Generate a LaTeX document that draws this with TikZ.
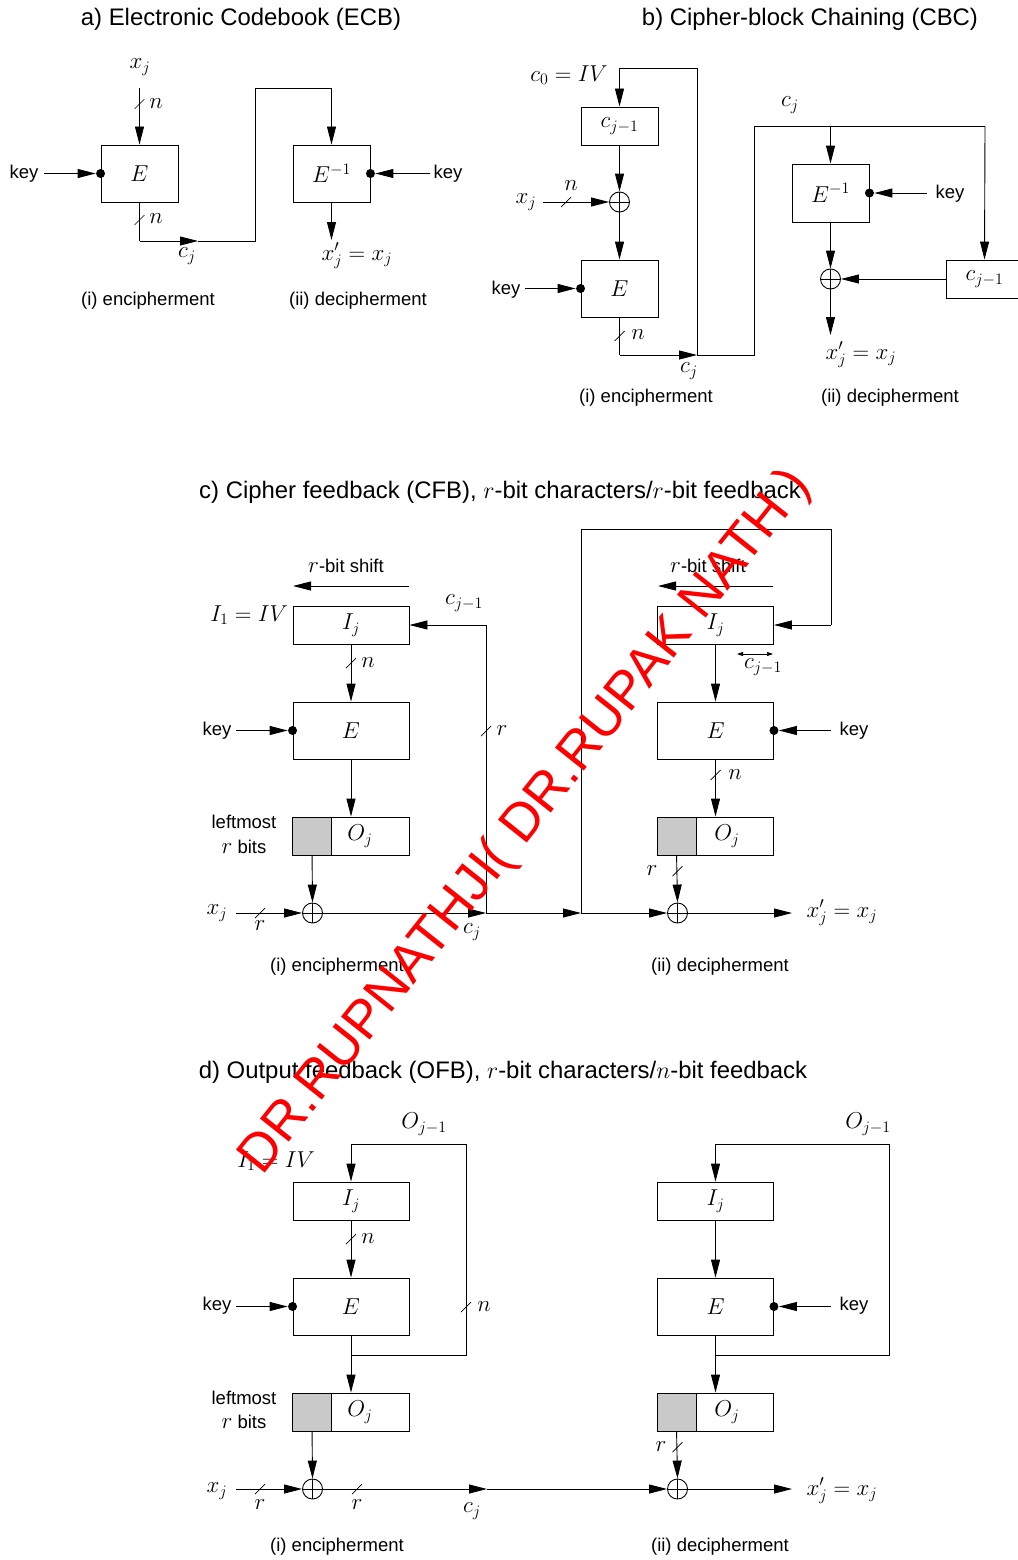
\RequirePackage{fix-cm}
\documentclass[tikz,border=0pt]{standalone}
\usepackage[no-math]{fontspec}
\setmainfont{Liberation Sans}
\DeclareMathSizes{18.5}{23}{16}{12}
\DeclareMathSizes{23.9}{23.9}{16.5}{12}
\usetikzlibrary{arrows.meta,calc}
\begin{document}
\begin{tikzpicture}[x=1pt,y=-1pt, line width=0.9pt,
  every node/.style={font=\fontsize{18.5}{22}\selectfont},
  title/.style={font=\fontsize{23.9}{27}\selectfont},
  blk/.style={draw, fill=white, inner sep=0pt, minimum width=116pt, minimum height=38pt},
  sblk/.style={blk, minimum width=77pt},
  eblk/.style={blk, minimum height=57pt},
  gpart/.style={draw, fill=black!21, inner sep=0pt, outer sep=0pt, minimum width=39pt, minimum height=38pt, anchor=west},
  keydot/.style={circle, fill, inner sep=0pt, minimum size=9pt},
  xorc/.style={circle, draw, fill=white, minimum size=20pt, inner sep=0pt,
    path picture={\draw (path picture bounding box.north) -- (path picture bounding box.south)
                        (path picture bounding box.west) -- (path picture bounding box.east);}},
  arr/.style={-{Triangle[length=18pt,width=9pt]}},
  bitslash/.pic={\draw[line width=0.7pt] (-5,5) -- (5,-5);}
]
\useasboundingbox (0,0) rectangle (1017,1560);

%================ a) ECB =================
\node[title] (ta) at (241,19) {a) Electronic Codebook (ECB)};
\node[sblk, minimum height=57pt] (aE) at (139.5,173.5) {$E$};
\node[sblk, minimum height=57pt] (aD) at (331.5,173.5) {$E^{-1}$};
\node (axj) at (140,67) {$x_j$};
\coordinate (aIn) at (139.5,88);
\draw[arr] (aIn) -- (aE.north);
\pic at (139.5,104) {bitslash};
\node (an1) at (156,104) {$n$};
\node (akeyL) at (24,174) {key};
\coordinate (akeyS) at (44,173.5);
\node[keydot] (adot1) at (aE.west) {};
\draw[arr] (akeyS) -- (adot1);
\coordinate (ac1) at (139.5,241);
\coordinate (ac2) at (198,241);
\coordinate (ac3) at (255,241);
\coordinate (ac4) at (255,88);
\coordinate (ac5) at (331.5,88);
\draw (aE.south) -- (ac1);
\draw[arr] (ac1) -- (ac2);
\draw (ac2) -- (ac3) -- (ac4) -- (ac5);
\draw[arr] (ac5) -- (aD.north);
\pic at (139.5,220) {bitslash};
\node (an2) at (156,219) {$n$};
\node (acj) at (187,256) {$c_j$};
\node[keydot] (adot2) at (aD.east) {};
\coordinate (akeyS2) at (430,173.5);
\draw[arr] (akeyS2) -- (adot2);
\node (akeyR) at (448,174) {key};
\coordinate (aOut) at (331.5,240);
\draw[arr] (aD.south) -- (aOut);
\node (axo) at (357,256) {$x'_j = x_j$};
\node (acap1) at (148,301) {(i) encipherment};
\node (acap2) at (358,301) {(ii) decipherment};

%================ b) CBC =================
\node[title] (tb) at (810,19) {b) Cipher-block Chaining (CBC)};
\node[sblk] (bC) at (619.5,126) {$c_{j-1}$};
\node[xorc] (bX) at (619.5,202) {};
\node[sblk, minimum height=57pt] (bE) at (619.5,288.5) {$E$};
\node (bc0) at (569,75) {$c_0 = IV$};
\coordinate (bJ) at (697,355);
\coordinate (bT1) at (697,68);
\coordinate (bT2) at (619.5,68);
\draw (bJ) -- (bT1) -- (bT2);
\draw[arr] (bT2) -- (bC.north);
\draw[arr] (bC.south) -- (bX.north);
\draw[arr] (bX.south) -- (bE.north);
\node (bxj) at (526,202) {$x_j$};
\coordinate (bxin) at (543,202);
\draw[arr] (bxin) -- (bX.west);
\pic at (566,202) {bitslash};
\node (bn1) at (571,186) {$n$};
\node (bkeyL) at (506,290) {key};
\coordinate (bkeyS) at (525,288.5);
\node[keydot] (bdot1) at (bE.west) {};
\draw[arr] (bkeyS) -- (bdot1);
\coordinate (bB1) at (619.5,355);
\draw (bE.south) -- (bB1);
\draw[arr] (bB1) -- (bJ);
\pic at (619.5,336) {bitslash};
\node (bn2) at (638,335) {$n$};
\node (bcj1) at (689,371) {$c_j$};
\coordinate (bR1) at (754,355);
\coordinate (bR2) at (754,126);
\coordinate (bR3) at (985,126);
\coordinate (bR4) at (830.5,126);
\node[sblk, minimum height=58pt] (bD) at (830.5,193) {$E^{-1}$};
\node[xorc] (bX2) at (830.5,279) {};
\node[sblk] (bC2) at (984.5,279) {$c_{j-1}$};
\draw (bJ) -- (bR1) -- (bR2) -- (bR3);
\draw[arr] (bR3) -- (bC2.north);
\draw[arr] (bR4) -- (bD.north);
\node (bcj2) at (790,105) {$c_j$};
\node[keydot] (bdot2) at (bD.east) {};
\coordinate (bkeyS2) at (927,193);
\draw[arr] (bkeyS2) -- (bdot2);
\node (bkeyR) at (950,194) {key};
\draw[arr] (bD.south) -- (bX2.north);
\draw[arr] (bC2.west) -- (bX2.east);
\coordinate (bOut) at (830.5,335);
\draw[arr] (bX2.south) -- (bOut);
\node (bxo) at (861,355) {$x'_j = x_j$};
\node (bcap1) at (646,398) {(i) encipherment};
\node (bcap2) at (890,398) {(ii) decipherment};

%================ c) CFB =================
\node[title] (tc) at (500,492) {c) Cipher feedback (CFB), $r$-bit characters/$r$-bit feedback};
% left
\node (csh1) at (346,566) {$r$-bit shift};
\coordinate (csa1) at (409,586);
\coordinate (csb1) at (293,586);
\draw[arr] (csa1) -- (csb1);
\node[blk] (cI) at (351,625) {$I_j$};
\node[eblk] (cE) at (351,730.5) {$E$};
\node[blk] (cO) at (351,836) {};
\node[gpart] (cG) at (cO.west) {};
\node (cOl) at (360,836) {$O_j$};
\node (cIV) at (249,615) {$I_1 = IV$};
\node (ccj1) at (464,603) {$c_{j-1}$};
\coordinate (cJ1) at (486,913);
\coordinate (cF1) at (486,625);
\draw (cJ1) -- (cF1);
\draw[arr] (cF1) -- (cI.east);
\pic at (486,731) {bitslash};
\node (cr1) at (502,731) {$r$};
\draw[arr] (cI.south) -- (cE.north);
\pic at (351,663) {bitslash};
\node (cn1) at (368,663) {$n$};
\node (ckeyL) at (217,731) {key};
\coordinate (ckeyS) at (236,730.5);
\node[keydot] (cdot1) at (cE.west) {};
\draw[arr] (ckeyS) -- (cdot1);
\draw[arr] (cE.south) -- (cO.north);
\node (clm) at (244,822) {leftmost};
\node (crb) at (244,847) {$r$ bits};
\node[xorc] (cX) at (312.5,913) {};
\draw[arr] (cG.south) -- (cX.north);
\node (cxj) at (217,913) {$x_j$};
\coordinate (cxin) at (236,913);
\draw[arr] (cxin) -- (cX.west);
\pic at (260,913) {bitslash};
\node (cr2) at (260,926) {$r$};
\draw[arr] (cX.east) -- (cJ1);
\node (ccj) at (472,932) {$c_j$};
\coordinate (cJ2) at (581,913);
\draw[arr] (cJ1) -- (cJ2);
% right
\node (csh2) at (708,566) {$r$-bit shift};
\coordinate (csa2) at (773,586);
\coordinate (csb2) at (658,586);
\draw[arr] (csa2) -- (csb2);
\node[blk] (cI2) at (715.5,625) {$I_j$};
\node[eblk] (cE2) at (715.5,730.5) {$E$};
\node[blk] (cO2) at (715.5,836) {};
\node[gpart] (cG2) at (cO2.west) {};
\node (cOl2) at (727,836) {$O_j$};
\coordinate (cL1) at (581,529);
\coordinate (cL2) at (831,529);
\coordinate (cL3) at (831,625);
\draw (cJ2) -- (cL1) -- (cL2) -- (cL3);
\draw[arr] (cL3) -- (cI2.east);
\coordinate (cda) at (737,654);
\coordinate (cdb) at (773,654);
\draw[{Triangle[length=6pt,width=4pt]}-{Triangle[length=6pt,width=4pt]}, line width=0.7pt] (cda) -- (cdb);
\node (ccj2) at (763,667) {$c_{j-1}$};
\draw[arr] (cI2.south) -- (cE2.north);
\node[keydot] (cdot2) at (cE2.east) {};
\coordinate (ckeyS2) at (831,730.5);
\draw[arr] (ckeyS2) -- (cdot2);
\node (ckeyR) at (854,731) {key};
\draw[arr] (cE2.south) -- (cO2.north);
\pic at (715.5,775) {bitslash};
\node (cn2) at (735,775) {$n$};
\node[xorc] (cX2) at (677.5,913) {};
\draw[arr] (cG2.south) -- (cX2.north);
\pic at (677.5,871) {bitslash};
\node (cr3) at (652,871) {$r$};
\draw[arr] (cJ2) -- (cX2.west);
\coordinate (cOut) at (792,913);
\draw[arr] (cX2.east) -- (cOut);
\node (cxo) at (842,913) {$x'_j = x_j$};
\node (ccap1) at (337,967) {(i) encipherment};
\node (ccap2) at (720,967) {(ii) decipherment};

%================ d) OFB =================
\node[title] (td) at (503,1072) {d) Output feedback (OFB), $r$-bit characters/$n$-bit feedback};
% left
\node[blk] (dI) at (351,1201) {$I_j$};
\node[eblk] (dE) at (351,1306.5) {$E$};
\node[blk] (dO) at (351,1412) {};
\node[gpart] (dG) at (dO.west) {};
\node (dOl) at (360,1412) {$O_j$};
\node (dOp) at (424,1124) {$O_{j-1}$};
\node (dIV) at (276,1161) {$I_1 = IV$};
\coordinate (dL0) at (351,1355);
\coordinate (dL1) at (466,1355);
\coordinate (dL2) at (466,1144);
\coordinate (dL3) at (351,1144);
\draw (dL0) -- (dL1) -- (dL2) -- (dL3);
\draw[arr] (dL3) -- (dI.north);
\pic at (466,1307) {bitslash};
\node (dn1) at (484,1307) {$n$};
\draw[arr] (dI.south) -- (dE.north);
\pic at (351,1239) {bitslash};
\node (dn2) at (368,1239) {$n$};
\node (dkeyL) at (217,1306) {key};
\coordinate (dkeyS) at (236,1306.5);
\node[keydot] (ddot1) at (dE.west) {};
\draw[arr] (dkeyS) -- (ddot1);
\draw[arr] (dE.south) -- (dO.north);
\node (dlm) at (244,1398) {leftmost};
\node (drb) at (244,1422) {$r$ bits};
\node[xorc] (dX) at (312.5,1489) {};
\draw[arr] (dG.south) -- (dX.north);
\node (dxj) at (217,1491) {$x_j$};
\coordinate (dxin) at (236,1489);
\draw[arr] (dxin) -- (dX.west);
\pic at (260,1489) {bitslash};
\node (dr1) at (260,1505) {$r$};
\coordinate (dM) at (487,1489);
\draw[arr] (dX.east) -- (dM);
\pic at (357,1489) {bitslash};
\node (dr2) at (357,1505) {$r$};
\node (dcj) at (472,1511) {$c_j$};
% right
\node[blk] (dI2) at (715.5,1201) {$I_j$};
\node[eblk] (dE2) at (715.5,1306.5) {$E$};
\node[blk] (dO2) at (715.5,1412) {};
\node[gpart] (dG2) at (dO2.west) {};
\node (dOl2) at (727,1412) {$O_j$};
\node (dOp2) at (868,1124) {$O_{j-1}$};
\coordinate (dR0) at (715.5,1355);
\coordinate (dR1) at (889,1355);
\coordinate (dR2) at (889,1144);
\coordinate (dR3) at (715.5,1144);
\draw (dR0) -- (dR1) -- (dR2) -- (dR3);
\draw[arr] (dR3) -- (dI2.north);
\draw[arr] (dI2.south) -- (dE2.north);
\node[keydot] (ddot2) at (dE2.east) {};
\coordinate (dkeyS2) at (831,1306.5);
\draw[arr] (dkeyS2) -- (ddot2);
\node (dkeyR) at (854,1306) {key};
\draw[arr] (dE2.south) -- (dO2.north);
\node[xorc] (dX2) at (677.5,1489) {};
\draw[arr] (dG2.south) -- (dX2.north);
\pic at (677.5,1447) {bitslash};
\node (dr3) at (661,1447) {$r$};
\draw[arr] (dM) -- (dX2.west);
\coordinate (dOut) at (792,1489);
\draw[arr] (dX2.east) -- (dOut);
\node (dxo) at (842,1491) {$x'_j = x_j$};
\node (dcap1) at (337,1547) {(i) encipherment};
\node (dcap2) at (720,1547) {(ii) decipherment};

%================ watermark =================
\node[rotate=51.5, text=red, font=\fontsize{53.5}{60}\selectfont] (wm) at (526,822) {DR.RUPNATHJI( DR.RUPAK NATH )};
\end{tikzpicture}
\end{document}
